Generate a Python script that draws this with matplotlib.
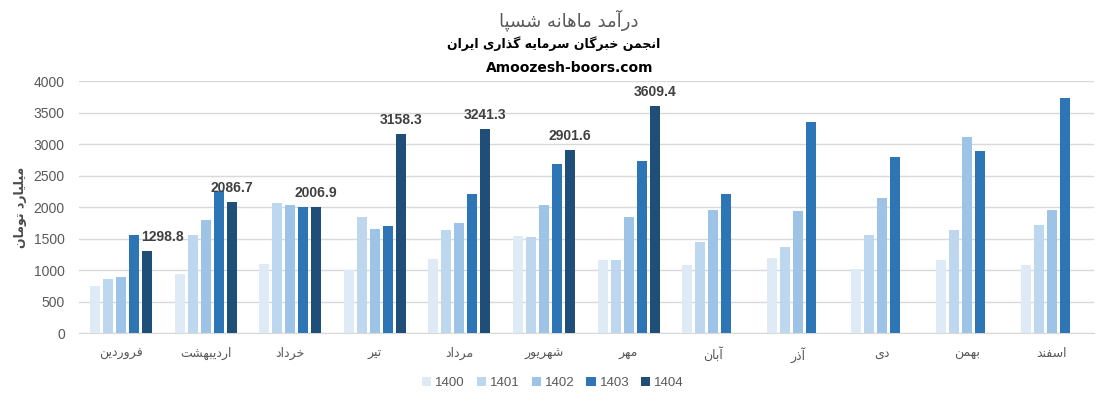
import matplotlib
matplotlib.use("Agg")
import matplotlib.pyplot as plt
import numpy as np
from matplotlib.patches import Patch


months = ["فروردین", "اردیبهشت", "خرداد", "تیر", "مرداد", "شهریور",
          "مهر", "آبان", "آذر", "دی", "بهمن", "اسفند"]

years = ["1400", "1401", "1402", "1403", "1404"]

v1400 = [740, 940, 1100, 1000, 1180, 1545, 1165, 1085, 1195, 1020, 1165, 1085]
v1401 = [860, 1560, 2065, 1845, 1640, 1530, 1165, 1450, 1370, 1560, 1640, 1720]
v1402 = [895, 1800, 2035, 1655, 1750, 2035, 1845, 1955, 1940, 2145, 3110, 1955]
v1403 = [1560, 2260, 2005, 1700, 2210, 2685, 2735, 2210, 3350, 2795, 2890, 3730]
v1404 = [1298.8, 2086.7, 2006.9, 3158.3, 3241.3, 2901.6, 3609.4]

colors = ["#DEEBF7", "#BDD7EE", "#9DC3E6", "#2E75B6", "#1F4E79"]

title_fa = "درآمد ماهانه شسپا"
subtitle_fa = "انجمن خبرگان سرمایه گذاری ایران"
site = "Amoozesh-boors.com"
ylabel_fa = "میلیارد تومان"


# small shaper: matplotlib has no arabic shaping, so pick presentation forms by hand
# (isolated, final, initial, medial)
FORMS = {
    "ا": ("\uFE8D", "\uFE8E", None, None),
    "آ": ("\uFE81", "\uFE82", None, None),
    "د": ("\uFEA9", "\uFEAA", None, None),
    "ذ": ("\uFEAB", "\uFEAC", None, None),
    "ر": ("\uFEAD", "\uFEAE", None, None),
    "و": ("\uFEED", "\uFEEE", None, None),
    "ب": ("\uFE8F", "\uFE90", "\uFE91", "\uFE92"),
    "پ": ("\uFB56", "\uFB57", "\uFB58", "\uFB59"),
    "ت": ("\uFE95", "\uFE96", "\uFE97", "\uFE98"),
    "ج": ("\uFE9D", "\uFE9E", "\uFE9F", "\uFEA0"),
    "خ": ("\uFEA5", "\uFEA6", "\uFEA7", "\uFEA8"),
    "س": ("\uFEB1", "\uFEB2", "\uFEB3", "\uFEB4"),
    "ش": ("\uFEB5", "\uFEB6", "\uFEB7", "\uFEB8"),
    "ف": ("\uFED1", "\uFED2", "\uFED3", "\uFED4"),
    "گ": ("\uFB92", "\uFB93", "\uFB94", "\uFB95"),
    "ل": ("\uFEDD", "\uFEDE", "\uFEDF", "\uFEE0"),
    "م": ("\uFEE1", "\uFEE2", "\uFEE3", "\uFEE4"),
    "ن": ("\uFEE5", "\uFEE6", "\uFEE7", "\uFEE8"),
    "ه": ("\uFEE9", "\uFEEA", "\uFEEB", "\uFEEC"),
    "ی": ("\uFBFC", "\uFBFD", "\uFBFE", "\uFBFF"),
}


def dual(c):
    return c in FORMS and FORMS[c][2] is not None


def shape(text):
    out = []
    for i, c in enumerate(text):
        if c not in FORMS:
            out.append(c)
            continue
        prev = text[i - 1] if i > 0 else ""
        nxt = text[i + 1] if i < len(text) - 1 else ""
        jp = dual(prev)
        jn = dual(c) and nxt in FORMS
        f = FORMS[c]
        if jp and jn:
            out.append(f[3])
        elif jp:
            out.append(f[1])
        elif jn:
            out.append(f[2])
        else:
            out.append(f[0])
    return "".join(out)[::-1]


def main():
    fig = plt.figure(figsize=(11, 4.07), dpi=100)
    ax = fig.add_axes([0.0715, 0.1818, 0.923, 0.619])

    x = np.arange(len(months))
    step = 0.1537
    width = 0.118
    series = [v1400, v1401, v1402, v1403, v1404]
    for k, vals in enumerate(series):
        xs = x[:len(vals)] + (k - 2) * step
        ax.bar(xs, vals, width, color=colors[k], label=years[k], zorder=3)

    # data labels on 1404
    for i, v in enumerate(v1404):
        dx = 15 if i == 0 else 0
        ax.annotate("%.1f" % v, (x[i] + 2 * step, v), xytext=(dx * 0.72, 5),
                    textcoords="offset points", ha="center", va="bottom",
                    fontsize=10, fontweight="bold", color="#404040",
                    family="Liberation Sans")

    ax.set_xlim(-0.5, len(months) - 0.5)
    ax.set_ylim(0, 4000)
    ax.set_yticks(range(0, 4001, 500))
    ax.yaxis.grid(True, color="#D9D9D9", linewidth=1, zorder=0)
    for s in ["top", "right", "left"]:
        ax.spines[s].set_visible(False)
    ax.spines["bottom"].set_color("#D9D9D9")
    ax.tick_params(axis="both", length=0, colors="#595959")
    ax.tick_params(axis="y", pad=10, labelsize=10)
    for t in ax.get_yticklabels():
        t.set_family("Liberation Sans")
    ax.set_xticks(x)
    ax.set_xticklabels([shape(m) for m in months], fontsize=9, family="DejaVu Sans")
    ax.tick_params(axis="x", pad=10)

    fig.text(21 / 1100, 1 - 207 / 407, shape(ylabel_fa), rotation=90,
             ha="center", va="center", fontsize=9, fontweight="bold",
             color="#4A4A4A", family="DejaVu Sans")

    fig.text(569 / 1100, 1 - 20 / 407, shape(title_fa), ha="center", va="center",
             fontsize=13, color="#595959", family="DejaVu Sans")
    fig.text(554 / 1100, 1 - 44 / 407, shape(subtitle_fa), ha="center", va="center",
             fontsize=9, fontweight="bold", color="black", family="DejaVu Sans")
    fig.text(570 / 1100, 1 - 68 / 407, site, ha="center", va="center",
             fontsize=10, fontweight="bold", color="black", family="DejaVu Sans")

    handles = [Patch(facecolor=c, edgecolor="none") for c in colors]
    leg = ax.legend(handles, years, loc="center", ncol=5, frameon=False,
                    bbox_to_anchor=(553 / 1100, 1 - 383 / 407),
                    bbox_transform=fig.transFigure,
                    handlelength=0.7, handleheight=0.7, handletextpad=0.3,
                    columnspacing=0.9, prop={"family": "Liberation Sans", "size": 9.5})
    for t in leg.get_texts():
        t.set_color("#595959")

    fig.savefig("out.png", dpi=100)


if __name__ == "__main__":
    main()
